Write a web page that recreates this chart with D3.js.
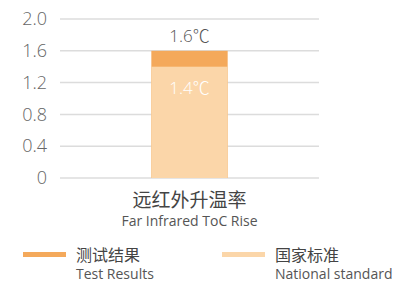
<!DOCTYPE html>
<html>
<head>
<meta charset="utf-8">
<script src="https://cdn.jsdelivr.net/npm/d3@7"></script>
<style>
  body { margin: 0; background: #fff; }
  text { font-family: "Open Sans", "Noto Sans CJK SC", sans-serif; }
</style>
</head>
<body>
<div id="chart"></div>
<script>
var categories = ["远红外升温率"];
var categoriesEn = ["Far Infrared ToC Rise"];
var testResults = [1.6];
var nationalStandard = [1.4];
var yTicks = [0, 0.4, 0.8, 1.2, 1.6, 2.0];
var seriesNames = ["测试结果", "国家标准"];
var seriesNamesEn = ["Test Results", "National standard"];

var svgWidth = 399;
var svgHeight = 282;
var margin = { top: 19, right: 80, bottom: 104, left: 60 };
var width = svgWidth - margin.left - margin.right;
var height = svgHeight - margin.top - margin.bottom;

var colorTest = "#f4a95b";
var colorStd = "#fbd6a9";

var svg = d3.select("#chart").append("svg")
  .attr("width", svgWidth)
  .attr("height", svgHeight);

var chartGroup = svg.append("g")
  .attr("transform", `translate(${margin.left}, ${margin.top})`);

var x = d3.scaleBand()
  .domain(categories)
  .range([0, width])
  .paddingInner(0.7)
  .paddingOuter(0.359);

var y = d3.scaleLinear()
  .domain([0, 2.0])
  .range([height, 0]);

// gridlines
chartGroup.selectAll("line.grid")
  .data(yTicks)
  .enter()
  .append("line")
  .attr("class", "grid")
  .attr("x1", 0)
  .attr("x2", width)
  .attr("y1", d => y(d))
  .attr("y2", d => y(d))
  .attr("stroke", "#dcdcdc")
  .attr("stroke-width", 1.5);

// y axis labels
var leftAxis = d3.axisLeft(y)
  .tickValues(yTicks)
  .tickSize(0)
  .tickPadding(13)
  .tickFormat(d => d === 0 ? "0" : d3.format(".1f")(d));

var yAxis = chartGroup.append("g").call(leftAxis);
yAxis.select(".domain").remove();
yAxis.selectAll("text")
  .attr("font-size", 18)
  .attr("font-weight", 300)
  .attr("fill", "#666")
  .attr("font-family", "Open Sans, sans-serif");

// bars: test result behind, national standard in front
chartGroup.selectAll("rect.test")
  .data(testResults)
  .enter()
  .append("rect")
  .attr("class", "test")
  .attr("x", (d, i) => x(categories[i]))
  .attr("width", x.bandwidth())
  .attr("y", d => y(d))
  .attr("height", d => height - y(d))
  .attr("fill", colorTest);

chartGroup.selectAll("rect.std")
  .data(nationalStandard)
  .enter()
  .append("rect")
  .attr("class", "std")
  .attr("x", (d, i) => x(categories[i]))
  .attr("width", x.bandwidth())
  .attr("y", d => y(d))
  .attr("height", d => height - y(d))
  .attr("fill", colorStd);

// value labels
chartGroup.selectAll("text.testLabel")
  .data(testResults)
  .enter()
  .append("text")
  .attr("x", (d, i) => x(categories[i]) + x.bandwidth() / 2)
  .attr("y", d => y(d) - 9)
  .attr("text-anchor", "middle")
  .attr("font-size", 17)
  .attr("font-weight", 300)
  .attr("fill", "#555")
  .text(d => d + "℃");

chartGroup.selectAll("text.stdLabel")
  .data(nationalStandard)
  .enter()
  .append("text")
  .attr("x", (d, i) => x(categories[i]) + x.bandwidth() / 2)
  .attr("y", d => y(d) + 27)
  .attr("text-anchor", "middle")
  .attr("font-size", 17)
  .attr("font-weight", 300)
  .attr("fill", "#fff")
  .text(d => d + "℃");

// category labels
categories.forEach(function(c, i) {
  var cx = x(c) + x.bandwidth() / 2;
  chartGroup.append("text")
    .attr("x", cx)
    .attr("y", height + 29)
    .attr("text-anchor", "middle")
    .attr("font-size", 19)
    .attr("font-family", "Noto Sans CJK SC, sans-serif")
    .attr("fill", "#444")
    .text(c);
  chartGroup.append("text")
    .attr("x", cx)
    .attr("y", height + 48)
    .attr("text-anchor", "middle")
    .attr("font-size", 14)
    .attr("fill", "#555")
    .text(categoriesEn[i]);
});

// legend
var legendX = [23, 222];
var legendColors = [colorTest, colorStd];
var legend = svg.selectAll("g.legend")
  .data(seriesNames)
  .enter()
  .append("g")
  .attr("class", "legend")
  .attr("transform", (d, i) => `translate(${legendX[i]}, 0)`);

legend.append("rect")
  .attr("x", 0)
  .attr("y", 252)
  .attr("width", 43)
  .attr("height", 5)
  .attr("fill", (d, i) => legendColors[i]);

legend.append("text")
  .attr("x", 53)
  .attr("y", 261)
  .attr("font-size", 16)
  .attr("font-family", "Noto Sans CJK SC, sans-serif")
  .attr("fill", "#444")
  .text(d => d);

legend.append("text")
  .attr("x", 53)
  .attr("y", 279)
  .attr("font-size", 14)
  .attr("fill", "#555")
  .text((d, i) => seriesNamesEn[i]);
</script>
</body>
</html>
